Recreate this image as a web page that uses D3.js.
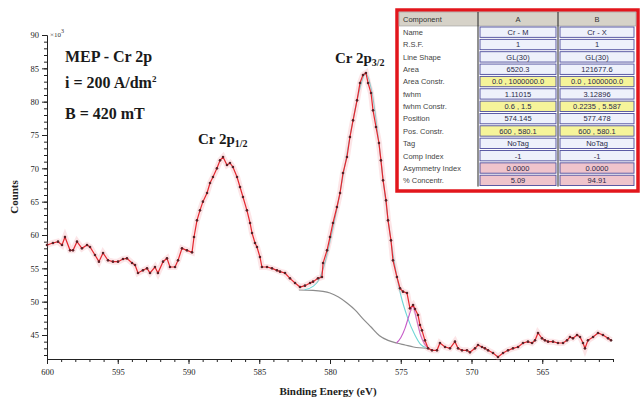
<!DOCTYPE html>
<html>
<head>
<meta charset="utf-8">
<script src="https://cdn.jsdelivr.net/npm/d3@7"></script>
<style>
  body { margin: 0; background: #fff; }
  svg { display: block; }
</style>
</head>
<body>
<svg id="chart" width="641" height="399"></svg>
<script>
// ---- XPS Cr 2p spectrum: binding energy (eV) and counts (x10^3) ----
const energy = [
  600.00, 599.58, 599.22, 598.94, 598.73, 598.37, 598.16, 597.88, 597.53, 597.17,
  596.96, 596.61, 596.33, 596.04, 595.69, 595.34, 594.98, 594.63, 594.35, 593.99,
  593.78, 593.57, 593.22, 592.93, 592.72, 592.37, 592.16, 591.80, 591.52, 591.31,
  590.95, 590.74, 590.46, 590.11, 589.75, 589.61, 589.40, 589.19, 588.98, 588.69,
  588.48, 588.27, 587.99, 587.77, 587.56, 587.28, 587.07, 586.86, 586.57, 586.36,
  586.15, 585.87, 585.65, 585.51, 585.30, 585.16, 584.95, 584.81, 584.45, 584.10,
  583.75, 583.53, 583.18, 582.83, 582.47, 582.12, 581.77, 581.41, 581.20, 580.85,
  580.57, 580.49, 580.21, 580.00, 579.79, 579.51, 579.29, 579.08, 578.80, 578.59,
  578.37, 578.09, 577.88, 577.67, 577.46, 577.31, 577.10, 576.96, 576.75, 576.54,
  576.40, 576.25, 576.04, 575.90, 575.69, 575.55, 575.27, 575.05, 574.84, 574.56,
  574.35, 574.13, 573.99, 573.78, 573.64, 573.50, 573.29, 573.07, 572.79, 572.44,
  572.23, 571.87, 571.52, 571.17, 570.95, 570.67, 570.32, 570.11, 569.75, 569.54,
  569.26, 569.05, 568.83, 568.48, 568.13, 567.77, 567.42, 567.07, 566.71, 566.36,
  566.01, 565.72, 565.51, 565.30, 565.02, 564.81, 564.59, 564.24, 563.89, 563.53,
  563.25, 563.04, 562.83, 562.54, 562.33, 562.12, 561.98, 561.77, 561.41, 561.06,
  560.71, 560.35, 560.14
];
const counts = [
  58.5, 58.8, 59.0, 58.5, 59.7, 57.7, 57.7, 59.0, 58.0, 58.5,
  58.2, 57.0, 56.0, 57.3, 56.2, 56.0, 56.0, 56.4, 56.5, 55.8,
  55.5, 54.3, 54.7, 55.0, 54.3, 55.2, 54.3, 56.0, 56.5, 55.2,
  55.2, 56.2, 58.0, 57.7, 57.4, 59.7, 62.2, 63.7, 65.0, 66.3,
  67.8, 68.7, 70.0, 71.2, 71.7, 70.5, 70.8, 70.2, 68.7, 67.2,
  65.7, 63.7, 61.8, 60.3, 58.8, 58.2, 56.7, 55.2, 55.2, 55.0,
  54.7, 54.5, 54.3, 53.5, 52.8, 52.2, 52.4, 52.8, 53.0, 53.5,
  53.7, 55.8, 57.7, 59.7, 61.8, 64.2, 66.3, 69.3, 71.7, 74.7,
  77.2, 80.2, 82.8, 84.0, 84.3, 82.8, 81.3, 78.7, 76.2, 73.8,
  71.2, 68.2, 65.2, 62.2, 59.2, 56.2, 53.7, 52.0, 51.5, 51.3,
  49.0, 49.5, 48.9, 48.0, 46.5, 45.7, 44.2, 43.0, 42.7, 42.7,
  43.8, 43.2, 43.0, 44.0, 43.0, 42.7, 42.7, 42.4, 43.0, 43.5,
  43.2, 43.0, 42.7, 42.3, 41.7, 42.3, 42.7, 43.0, 43.2, 43.8,
  44.0, 43.8, 44.2, 45.3, 44.5, 44.2, 44.0, 44.0, 43.8, 43.8,
  44.2, 44.7, 44.5, 45.0, 44.7, 43.8, 43.0, 44.2, 44.7, 45.3,
  45.0, 44.5, 44.2
];

// Shirley-type background under the 2p3/2 region
const bgEnergy = [582.2, 581.2, 580.5, 580.0, 579.4, 578.8, 578.2, 577.7, 577.1, 576.5, 575.9, 575.3, 574.7, 574.1, 573.1];
const bgCounts = [51.75, 51.7, 51.55, 51.3, 50.7, 49.8, 48.7, 47.5, 46.2, 44.9, 44.2, 43.8, 43.5, 43.2, 43.0];

// Component B (Cr - X), drawn on top of the background
const compBEnergy = [581.8, 581.2, 580.8, 580.4, 580.0, 579.5, 579.0, 578.5, 578.0, 577.478, 577.0, 576.5, 576.0, 575.5, 575.0, 574.5, 574.0, 573.6, 573.2];
const compBCounts = [51.8, 52.3, 53.2, 55.5, 59.0, 64.0, 69.8, 75.8, 81.0, 84.2, 81.0, 73.0, 64.0, 56.5, 51.0, 47.5, 45.0, 43.6, 43.1];

// Component A (Cr - M), drawn on top of the background
const compAEnergy = [575.3, 575.0, 574.7, 574.4, 574.145, 573.9, 573.6, 573.3, 573.0];
const compACounts = [43.8, 44.6, 46.0, 48.0, 49.3, 47.5, 45.0, 43.6, 43.0];

// Axis ticks
const xMajor = [600, 595, 590, 585, 580, 575, 570, 565];
const xMinor = d3.range(560, 601, 1);
const yMajor = [45, 50, 55, 60, 65, 70, 75, 80, 85, 90];
const yMinor = d3.range(42, 91, 1);

// Fit parameter table
const tableHeader = ["Component", "A", "B"];
const tableRows = ["Name", "R.S.F.", "Line Shape", "Area", "Area Constr.", "fwhm", "fwhm Constr.", "Position", "Pos. Constr.", "Tag", "Comp Index", "Asymmetry Index", "% Concentr."];
const colA = ["Cr - M", "1", "GL(30)", "6520.3", "0.0 , 1000000.0", "1.11015", "0.6 , 1.5", "574.145", "600 , 580.1", "NoTag", "-1", "0.0000", "5.09"];
const colB = ["Cr - X", "1", "GL(30)", "121677.6", "0.0 , 1000000.0", "3.12896", "0.2235 , 5.587", "577.478", "600 , 580.1", "NoTag", "-1", "0.0000", "94.91"];
const rowKind = ["n", "n", "n", "n", "y", "n", "y", "n", "y", "n", "n", "p", "p"];

// ---- drawing ----
const svg = d3.select("#chart");
const serif = "'Liberation Serif', 'Times New Roman', serif";
const sans = "'Liberation Sans', Arial, sans-serif";

const x = d3.scaleLinear().domain([600, 560]).range([47, 613]);
const y = d3.scaleLinear().domain([41.4, 90]).range([359, 35]);

// axes
const gx = svg.append("g").attr("transform", "translate(0,359)");
gx.call(d3.axisBottom(x).tickValues(xMinor).tickSize(3).tickSizeOuter(0).tickFormat(""));
gx.append("g").call(d3.axisBottom(x).tickValues(xMajor).tickSize(5).tickSizeOuter(0).tickFormat(d3.format("d")));
const gy = svg.append("g").attr("transform", "translate(47,0)");
gy.call(d3.axisLeft(y).tickValues(yMinor).tickSize(3).tickSizeOuter(0).tickFormat(""));
gy.append("g").call(d3.axisLeft(y).tickValues(yMajor).tickSize(5).tickSizeOuter(0).tickFormat(d3.format("d")));
svg.selectAll(".tick text").attr("font-family", serif).attr("font-size", 8.5).attr("fill", "#222");
svg.selectAll(".domain, .tick line").attr("stroke", "#222");
gx.selectAll(".tick text").attr("dy", "0.95em");

// x10^3 multiplier
const mult = svg.append("text").attr("x", 50).attr("y", 37).attr("font-family", serif).attr("font-size", 7).attr("fill", "#333");
mult.append("tspan").text("\u00d710");
mult.append("tspan").attr("dy", -4).attr("font-size", 6).text("3");

// axis titles
svg.append("text").attr("x", 328).attr("y", 395).attr("text-anchor", "middle")
  .attr("font-family", serif).attr("font-weight", "bold").attr("font-size", 11).attr("fill", "#222")
  .text("Binding Energy (eV)");
svg.append("text").attr("transform", "translate(18,197) rotate(-90)").attr("text-anchor", "middle")
  .attr("font-family", serif).attr("font-weight", "bold").attr("font-size", 11).attr("fill", "#222")
  .text("Counts");

// background and components
const lineXY = d3.line().x(d => x(d[0])).y(d => y(d[1])).curve(d3.curveMonotoneX);
const zip = (a, b) => a.map((v, i) => [v, b[i]]).sort((p, q) => p[0] - q[0]);
svg.append("path").attr("d", lineXY(zip(bgEnergy, bgCounts))).attr("fill", "none").attr("stroke", "#8c8c8c").attr("stroke-width", 1.2);
svg.append("path").attr("d", lineXY(zip(compBEnergy, compBCounts))).attr("fill", "none").attr("stroke", "#6fd6d6").attr("stroke-width", 1.1);
svg.append("path").attr("d", lineXY(zip(compAEnergy, compACounts))).attr("fill", "none").attr("stroke", "#c65ac8").attr("stroke-width", 1.1);

// measured data
const pts = energy.map((e, i) => [e, counts[i]]);
const dataLine = d3.line().x(d => x(d[0])).y(d => y(d[1]));
svg.append("path").attr("d", dataLine(pts)).attr("fill", "none").attr("stroke", "#f6a9b0").attr("stroke-width", 6).attr("stroke-opacity", 0.3);
svg.append("path").attr("d", dataLine(pts)).attr("fill", "none").attr("stroke", "#e3262e").attr("stroke-width", 1.2);
svg.append("g").selectAll("circle").data(pts).join("circle")
  .attr("cx", d => x(d[0])).attr("cy", d => y(d[1])).attr("r", 1.3).attr("fill", "#5a2026");

// annotations
const ann = (tx, ty, size) => svg.append("text").attr("x", tx).attr("y", ty)
  .attr("font-family", serif).attr("font-weight", "bold").attr("font-size", size).attr("fill", "#1a1a1a");
ann(65, 62, 16).text("MEP - Cr 2p");
const t2 = ann(65, 88, 16);
t2.append("tspan").text("i = 200 A/dm");
t2.append("tspan").attr("dy", -6).attr("font-size", 9).text("2");
ann(65, 119, 16).text("B = 420 mT");
const p12 = ann(198, 144, 15);
p12.append("tspan").text("Cr 2p");
p12.append("tspan").attr("dy", 3).attr("font-size", 10).text("1/2");
const p32 = ann(335, 63, 15);
p32.append("tspan").text("Cr 2p");
p32.append("tspan").attr("dy", 3).attr("font-size", 10).text("3/2");

// parameter table
const tb = svg.append("g");
const tX0 = 399, tX1 = 478, tX2 = 558, tX3 = 636;
const tTop = 12, headH = 14, rowH = 12.35;
tb.append("rect").attr("x", 397).attr("y", 10).attr("width", 241).attr("height", 181)
  .attr("fill", "#fff").attr("stroke", "#e2161c").attr("stroke-width", 3.5);
tb.append("rect").attr("x", tX0).attr("y", tTop).attr("width", tX3 - tX0).attr("height", headH)
  .attr("fill", "#d6d2c8").attr("stroke", "#9a9a9a").attr("stroke-width", 0.6);
tb.selectAll(".hd").data(tableHeader).join("text")
  .attr("x", (d, i) => i === 0 ? tX0 + 4 : (i === 1 ? (tX1 + tX2) / 2 : (tX2 + tX3) / 2))
  .attr("y", tTop + 10).attr("text-anchor", (d, i) => i === 0 ? "start" : "middle")
  .attr("font-family", sans).attr("font-size", 7.5).attr("fill", "#333").text(d => d);

const fillFor = k => k === "y" ? "#f6f49a" : (k === "p" ? "#efc4cc" : "#eef1fb");
tableRows.forEach((lab, i) => {
  const ry = tTop + headH + i * rowH;
  tb.append("text").attr("x", tX0 + 4).attr("y", ry + 9).attr("font-family", sans)
    .attr("font-size", 7.5).attr("fill", "#444").text(lab);
  [[tX1, tX2, colA[i]], [tX2, tX3, colB[i]]].forEach(([a, b, v]) => {
    tb.append("rect").attr("x", a + 2).attr("y", ry + 1).attr("width", b - a - 4).attr("height", rowH - 2)
      .attr("fill", fillFor(rowKind[i])).attr("stroke", "#4c4c9c").attr("stroke-width", 0.9);
    tb.append("text").attr("x", (a + b) / 2).attr("y", ry + 9).attr("text-anchor", "middle")
      .attr("font-family", sans).attr("font-size", 7.5).attr("fill", "#2a2a4a").text(v);
  });
});
// column dividers
[tX1, tX2].forEach(cx => tb.append("line").attr("x1", cx).attr("x2", cx).attr("y1", tTop)
  .attr("y2", tTop + headH + tableRows.length * rowH).attr("stroke", "#222").attr("stroke-width", 1));
</script>
</body>
</html>
